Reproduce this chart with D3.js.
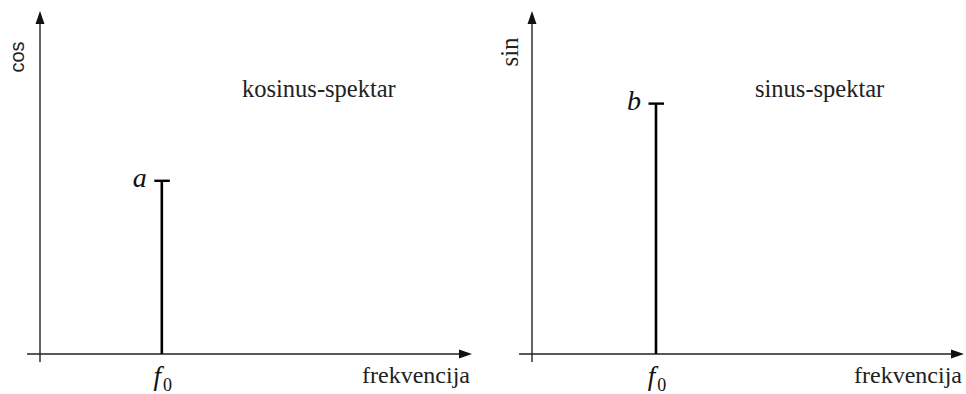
<!DOCTYPE html>
<html>
<head>
<meta charset="utf-8">
<script src="https://cdn.jsdelivr.net/npm/d3@7"></script>
<style>
  html, body { margin: 0; padding: 0; background: #fff; }
  svg { display: block; }
</style>
</head>
<body>
<svg id="chart" width="966" height="394"></svg>
<script>
// ---- data ----
const panels = ["cos", "sin"];
const spectrumTitles = ["kosinus-spektar", "sinus-spektar"];
const amplitudeLabels = ["a", "b"];
const amplitudes = [0.505, 0.73];   // relative to the top of the y-axis
const f0Values = [0.282, 0.287];    // relative position of f0 along the frequency axis
const xAxisLabel = "frekvencija";
const f0Label = "f";
const f0Sub = "0";

// ---- layout ----
const serif = "'Liberation Serif', 'DejaVu Serif', serif";
const sans = "'Liberation Sans', Arial, sans-serif";
const originXs = [40, 532];
const axisLen = 432;
const y0 = 354, yTop = 11;

const svg = d3.select("#chart");

panels.forEach((p, i) => {
  const ox = originXs[i];
  const x = d3.scaleLinear().domain([0, 1]).range([ox, ox + axisLen]);
  const y = d3.scaleLinear().domain([0, 1]).range([y0, yTop]);
  const g = svg.append("g");
  const axisColor = "#222";

  // x axis line
  g.append("line")
    .attr("x1", x(-0.03)).attr("x2", x(1) - 8)
    .attr("y1", y(0)).attr("y2", y(0))
    .attr("stroke", axisColor).attr("stroke-width", 1.4);
  g.append("path")
    .attr("d", `M${x(1)},${y(0)} L${x(1) - 13},${y(0) - 4.5} L${x(1) - 13},${y(0) + 4.5} Z`)
    .attr("fill", "#111");

  // y axis line
  g.append("line")
    .attr("x1", x(0)).attr("x2", x(0))
    .attr("y1", y0 + 8).attr("y2", y(1) + 8)
    .attr("stroke", axisColor).attr("stroke-width", 1.4);
  g.append("path")
    .attr("d", `M${x(0)},${y(1)} L${x(0) - 4.5},${y(1) + 13} L${x(0) + 4.5},${y(1) + 13} Z`)
    .attr("fill", "#111");

  // stem
  const fx = x(f0Values[i]);
  const ty = y(amplitudes[i]);
  g.append("line")
    .attr("x1", fx).attr("x2", fx)
    .attr("y1", y(0)).attr("y2", ty)
    .attr("stroke", "#000").attr("stroke-width", 2.6);
  g.append("line")
    .attr("x1", fx - 7.5).attr("x2", fx + 8)
    .attr("y1", ty).attr("y2", ty)
    .attr("stroke", "#000").attr("stroke-width", 2.4);

  // amplitude label
  g.append("text")
    .attr("x", fx - 15).attr("y", ty + 6)
    .attr("text-anchor", "end")
    .attr("font-family", serif).attr("font-style", "italic")
    .attr("font-size", 28).attr("fill", "#111")
    .text(amplitudeLabels[i]);

  // f0 label
  const ft = g.append("text")
    .attr("x", fx + 1).attr("y", 385)
    .attr("text-anchor", "middle")
    .attr("font-family", serif).attr("fill", "#111");
  ft.append("tspan").attr("font-style", "italic").attr("font-size", 27).text(f0Label);
  ft.append("tspan").attr("font-size", 18).attr("dy", 6).attr("dx", 2).text(f0Sub);

  // x axis label
  g.append("text")
    .attr("x", x(1) - 2).attr("y", 383)
    .attr("text-anchor", "end")
    .attr("font-family", serif).attr("font-size", 24).attr("fill", "#222")
    .text(xAxisLabel);

  // y axis label (rotated)
  const lx = i === 0 ? 24 : 518;
  const ly = i === 0 ? 57 : 52;
  g.append("text")
    .attr("transform", `translate(${lx},${ly}) rotate(-90)`)
    .attr("text-anchor", "middle")
    .attr("font-family", i === 0 ? sans : serif)
    .attr("font-size", i === 0 ? 20 : 25).attr("fill", "#222")
    .text(p);

  // spectrum title
  const tx = i === 0 ? 242 : 755;
  g.append("text")
    .attr("x", tx).attr("y", 97)
    .attr("font-family", serif).attr("font-size", 24.5).attr("fill", "#222")
    .text(spectrumTitles[i]);
});
</script>
</body>
</html>
